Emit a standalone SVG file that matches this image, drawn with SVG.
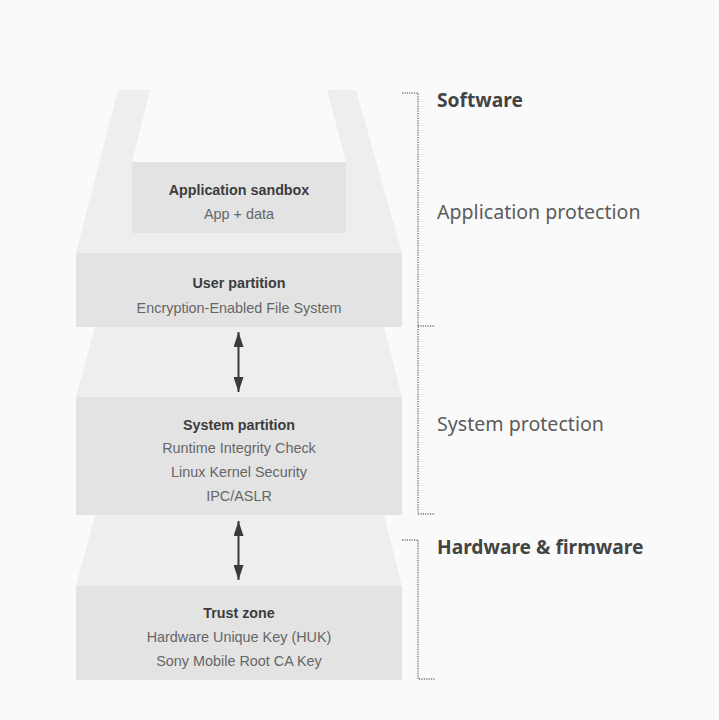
<svg xmlns="http://www.w3.org/2000/svg" width="719" height="720" viewBox="0 0 719 720">
  <defs>
    <style>
      .bg { fill: #fafafa; }
      .tier { fill: #eeeeef; }
      .box { fill: #e3e3e4; }
      .title { font-family: "Liberation Sans", Arial, sans-serif; font-size: 14.3px; font-weight: bold; fill: #3c3c3c; text-anchor: middle; }
      .item { font-family: "Liberation Sans", Arial, sans-serif; font-size: 14.4px; fill: #666666; text-anchor: middle; }
      .head { font-family: "Noto Sans", "Open Sans", sans-serif; font-size: 19.2px; font-weight: bold; fill: #444444; }
      .sub { font-family: "Noto Sans", "Open Sans", sans-serif; font-size: 19.6px; fill: #5c5c5c; }
      .dots { fill: none; stroke: #7a7a7a; stroke-width: 1.5; stroke-dasharray: 1.2 1.2; }
      .link { stroke: #3a3a3a; stroke-width: 2; fill: none; marker-start: url(#tip); marker-end: url(#tip); }
    </style>
    <marker id="tip" viewBox="0 0 15 10" refX="15" refY="5" markerWidth="15" markerHeight="10" markerUnits="userSpaceOnUse" orient="auto-start-reverse">
      <path d="M0,0 L15,5 L0,10 Z" fill="#3a3a3a"/>
    </marker>
  </defs>

  <rect class="bg" x="0" y="0" width="719" height="720"/>

  <!-- Application layer: U-shaped tier with sandbox -->
  <g id="app-sandbox">
    <polygon class="tier" points="118,90 356,90 402,253 76,253"/>
    <polygon class="bg" points="150,90 327,90 346,162 132,162"/>
    <rect class="box" x="132" y="162" width="214" height="71"/>
    <text class="title" x="239" y="195">Application sandbox</text>
    <text class="item" x="239" y="219">App + data</text>
  </g>

  <g id="user-partition">
    <rect class="box" x="76" y="253" width="326" height="74"/>
    <text class="title" x="239" y="288">User partition</text>
    <text class="item" x="239" y="313">Encryption-Enabled File System</text>
  </g>

  <g id="system-partition">
    <polygon class="tier" points="95,327 384,327 402,397 76,397"/>
    <rect class="box" x="76" y="397" width="326" height="118"/>
    <text class="title" x="239" y="430">System partition</text>
    <text class="item" x="239" y="453">Runtime Integrity Check</text>
    <text class="item" x="239" y="477">Linux Kernel Security</text>
    <text class="item" x="239" y="501">IPC/ASLR</text>
  </g>

  <g id="trust-zone">
    <polygon class="tier" points="95,515 384,515 402,586 76,586"/>
    <rect class="box" x="76" y="586" width="326" height="94"/>
    <text class="title" x="239" y="618">Trust zone</text>
    <text class="item" x="239" y="642">Hardware Unique Key (HUK)</text>
    <text class="item" x="239" y="666">Sony Mobile Root CA Key</text>
  </g>

  <g id="connectors">
    <line class="link" x1="238.5" y1="332" x2="238.5" y2="392"/>
    <line class="link" x1="238.5" y1="521" x2="238.5" y2="580"/>
  </g>

  <!-- Layer brackets -->
  <g id="bracket-software">
    <path class="dots" d="M402,93 H418 V514 M418,326 H435 M418,514 H435"/>
    <text class="head" x="437" y="107">Software</text>
    <text class="sub" x="437" y="219">Application protection</text>
    <text class="sub" x="437" y="431">System protection</text>
  </g>

  <g id="bracket-hardware">
    <path class="dots" d="M402,540 H418 V679 H435"/>
    <text class="head" x="437" y="554">Hardware &amp; firmware</text>
  </g>
</svg>
